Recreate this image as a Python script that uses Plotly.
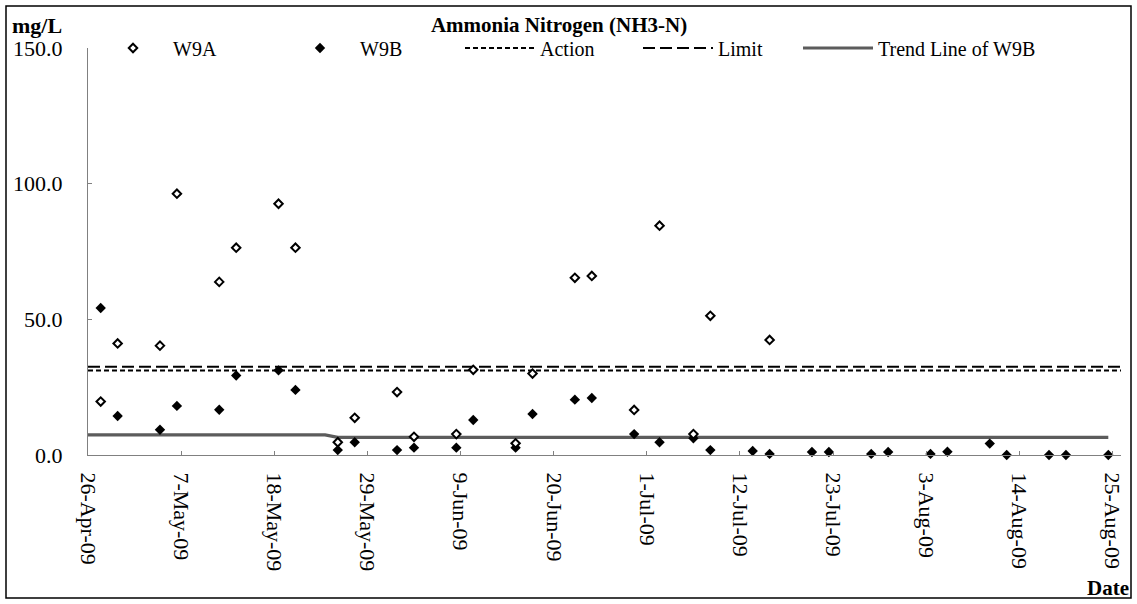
import plotly.graph_objects as go

# ---------------- data ----------------
w9a_dates = ["2009-04-27", "2009-04-29", "2009-05-04", "2009-05-06", "2009-05-11", "2009-05-13",
             "2009-05-18", "2009-05-20", "2009-05-25", "2009-05-27", "2009-06-01", "2009-06-03",
             "2009-06-08", "2009-06-10", "2009-06-15", "2009-06-17", "2009-06-22", "2009-06-24",
             "2009-06-29", "2009-07-02", "2009-07-06", "2009-07-08", "2009-07-15"]
w9a_values = [19.7, 41.1, 40.3, 96.3, 63.8, 76.4, 92.6, 76.4, 4.7, 13.7, 23.2, 6.7,
              7.7, 31.4, 4.3, 30.0, 65.3, 66.0, 16.6, 84.5, 7.7, 51.3, 42.4]

w9b_dates = ["2009-04-27", "2009-04-29", "2009-05-04", "2009-05-06", "2009-05-11", "2009-05-13",
             "2009-05-18", "2009-05-20", "2009-05-25", "2009-05-27", "2009-06-01", "2009-06-03",
             "2009-06-08", "2009-06-10", "2009-06-15", "2009-06-17", "2009-06-22", "2009-06-24",
             "2009-06-29", "2009-07-02", "2009-07-06", "2009-07-08", "2009-07-13", "2009-07-15",
             "2009-07-20", "2009-07-22", "2009-07-27", "2009-07-29", "2009-08-03", "2009-08-05",
             "2009-08-10", "2009-08-12", "2009-08-17", "2009-08-19", "2009-08-24"]
w9b_values = [54.2, 14.4, 9.3, 18.1, 16.7, 29.3, 31.2, 24.0, 1.8, 4.7, 1.8, 2.7,
              2.7, 12.9, 2.7, 15.1, 20.4, 21.0, 7.7, 4.7, 6.2, 1.8, 1.5, 0.4,
              1.1, 1.1, 0.4, 1.1, 0.4, 1.2, 4.2, 0.0, 0.0, 0.0, 0.0]
sample_time = " 12:00"

action_level = 31.1
limit_level = 32.5
level_dates = ["2009-04-26", "2009-08-26"]

trend_dates = ["2009-04-26", "2009-05-24", "2009-05-25 12:00", "2009-08-24 12:00"]
trend_values = [7.4, 7.4, 6.5, 6.5]

x_start, x_end = "2009-04-26", "2009-08-26"
tick_step_days = 11

FONT = "Liberation Serif"

fig = go.Figure()

fig.add_trace(go.Scatter(
    x=level_dates, y=[action_level] * len(level_dates), mode="lines", name="Action",
    line=dict(color="black", width=2, dash="5px,3px"), legendrank=3, legendwidth=93,
    cliponaxis=False))
fig.add_trace(go.Scatter(
    x=level_dates, y=[limit_level] * len(level_dates), mode="lines", name="Limit",
    line=dict(color="black", width=2, dash="12px,5px"), legendrank=4, legendwidth=75,
    cliponaxis=False))
fig.add_trace(go.Scatter(
    x=trend_dates, y=trend_values, mode="lines", name="Trend Line of W9B",
    line=dict(color="#5c5c5c", width=3.2), legendrank=5))
fig.add_trace(go.Scatter(
    x=[d + sample_time for d in w9b_dates], y=w9b_values, mode="markers", name="W9B",
    marker=dict(symbol="diamond", size=8, color="black", line=dict(width=0)),
    legendrank=2, legendwidth=95, cliponaxis=False))
fig.add_trace(go.Scatter(
    x=[d + sample_time for d in w9a_dates], y=w9a_values, mode="markers", name="W9A",
    marker=dict(symbol="diamond", size=6.5, color="white", line=dict(color="black", width=2)),
    legendrank=1, legendwidth=102, cliponaxis=False))

fig.update_layout(
    width=1137, height=604,
    margin=dict(l=88, r=16, t=48, b=149, autoexpand=False),
    paper_bgcolor="white", plot_bgcolor="white",
    font=dict(family=FONT, color="black", size=20),
    title=dict(text="<b>Ammonia Nitrogen (NH3-N)</b>", font=dict(family=FONT, size=21, color="black"),
               xref="container", x=559 / 1137, xanchor="center",
               yref="container", y=1 - 25 / 604, yanchor="middle"),
    showlegend=True,
    legend=dict(orientation="h", xref="container", x=93 / 1137, xanchor="left",
                yref="container", y=1 - 48 / 604, yanchor="middle",
                font=dict(family=FONT, size=20, color="black"),
                itemwidth=70, bgcolor="rgba(0,0,0,0)", borderwidth=0,
                traceorder="normal", itemclick=False),
    xaxis=dict(type="date", range=[x_start, x_end], tick0=x_start,
               dtick=tick_step_days * 86400000, tickformat="%-d-%b-%y",
               tickangle=90, ticks="inside", ticklen=4, tickcolor="#808080",
               showline=True, linecolor="#808080", linewidth=1,
               showgrid=False, zeroline=False, ticklabelstandoff=12,
               tickfont=dict(family=FONT, size=22, color="black")),
    yaxis=dict(range=[0, 150], dtick=50, tickformat=".1f",
               ticks="inside", ticklen=4, tickcolor="#808080",
               showline=True, linecolor="#808080", linewidth=1,
               showgrid=False, zeroline=False, ticklabelstandoff=20,
               tickfont=dict(family=FONT, size=22, color="black")),
    annotations=[
        dict(text="<b>mg/L</b>", xref="paper", yref="paper",
             x=(10 - 88) / 1033, y=(455 - 25) / 407, xanchor="left", yanchor="middle",
             showarrow=False, font=dict(family=FONT, size=22, color="black")),
        dict(text="<b>Date</b>", xref="paper", yref="paper",
             x=(1131 - 88) / 1033, y=(455 - 588) / 407, xanchor="right", yanchor="middle",
             showarrow=False, font=dict(family=FONT, size=21, color="black")),
    ],
    shapes=[
        dict(type="rect", xref="paper", yref="paper",
             x0=(6 - 88) / 1033, x1=(1131 - 88) / 1033,
             y0=(455 - 598) / 407, y1=(455 - 6) / 407,
             line=dict(color="black", width=1.5), fillcolor="rgba(0,0,0,0)", layer="below"),
    ],
)

fig.write_html("out.html", config={"displayModeBar": False},
               post_script="document.body.style.margin='0';document.body.style.padding='0';")
